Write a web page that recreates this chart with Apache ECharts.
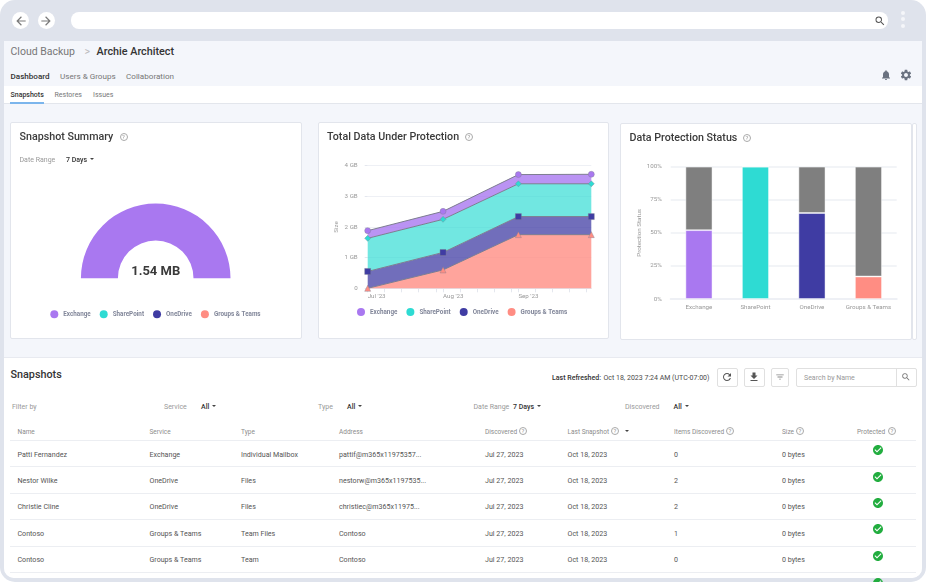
<!DOCTYPE html>
<html>
<head>
<meta charset="utf-8">
<title>Cloud Backup</title>
<script src="https://cdn.jsdelivr.net/npm/echarts@6/dist/echarts.min.js"></script>
<style>
  html, body { margin: 0; padding: 0; background: #fff; }
  #frame { position: absolute; left: 0; top: 0; width: 926px; height: 582px; background: #dfe3ec; border-radius: 15px; overflow: hidden; font-family: Roboto, sans-serif; filter: blur(0.3px); }
  #body { position: absolute; left: 4px; top: 41px; width: 918px; height: 537px; background: #f4f6fb; border-radius: 0 0 10px 10px; overflow: hidden; }
  .box { position: absolute; box-sizing: border-box; }
  .card { background: #fff; border: 1px solid #e2e5ec; border-radius: 2px; }
  .chart { position: absolute; }
  .t { position: absolute; white-space: nowrap; line-height: 1; transform: translateY(-50%); font-size: 7px; color: #4a4a4a; }
  .crumb { font-size: 10.5px; color: #777; }
  .arrow { color: #bbb; }
  .strong { font-size: 10.8px; font-weight: 500; color: #333; }
  .tab { font-size: 8.1px; color: #777; }
  .sub { font-size: 7px; color: #777; }
  .on { color: #333; font-weight: 500; }
  .title { font-size: 10.7px; font-weight: 500; color: #3b3b3b; }
  .lab { color: #999; }
  .head { color: #8c8c8c; font-size: 6.5px; }
  .sel { color: #333; font-weight: 500; }
  .cell { font-size: 7.1px; color: #555; }
  .help { position: absolute; width: 8px; height: 8px; box-sizing: border-box; border: .8px solid #a9a9a9; border-radius: 50%; color: #999; font-size: 6px; line-height: 6.6px; text-align: center; transform: translate(-50%, -50%); }
  .caret { position: absolute; width: 0; height: 0; border: 2.4px solid transparent; border-top: 2.8px solid #444; border-bottom: 0; transform: translate(-50%, -50%); }
  .ico { position: absolute; transform: translate(-50%, -50%); display: block; }
  .btn { background: #fff; border: 1px solid #e0e0e0; border-radius: 2px; }
</style>
</head>
<body>
<div id="frame">
  <div id="body"></div>
  <div class="box card" style="left:10px;top:122px;width:292px;height:217px"></div>
  <div class="box card" style="left:318px;top:122px;width:291px;height:217px"></div>
  <div class="box card" style="left:912px;top:123px;width:5px;height:217px"></div>
  <div class="box card" style="left:620px;top:123px;width:292px;height:217px"></div>
  <div class="box" style="left:4px;top:86px;width:918px;height:18px;background:#fff;border-bottom:1px solid #e3e6ec"></div>
  <div class="box" style="left:10px;top:102px;width:34px;height:1.5px;background:#7bb5ec"></div>
  <div class="box" style="left:4px;top:357px;width:918px;height:221px;background:#fff;border-top:1px solid #e8eaf0;border-radius:0 0 10px 10px"></div>
  <div class="box" style="left:71px;top:12px;width:817px;height:17px;background:#fff;border-radius:8px"></div>
  <div class="box" style="left:12px;top:12px;width:17px;height:17px;background:#fff;border-radius:50%"></div>
  <div class="box" style="left:37.5px;top:12px;width:17px;height:17px;background:#fff;border-radius:50%"></div>
  <div class="box" style="left:900.5px;top:10.5px;width:4px;height:4px;background:#f5f6fa;border-radius:50%"></div>
  <div class="box" style="left:900.5px;top:17px;width:4px;height:4px;background:#f5f6fa;border-radius:50%"></div>
  <div class="box" style="left:900.5px;top:24px;width:4px;height:4px;background:#f5f6fa;border-radius:50%"></div>
  <div class="box btn" style="left:716.5px;top:368px;width:21px;height:19px"></div>
  <div class="box btn" style="left:743.5px;top:368px;width:21px;height:19px"></div>
  <div class="box btn" style="left:771px;top:368px;width:18px;height:19px"></div>
  <div class="box btn" style="left:796px;top:368px;width:121px;height:19px"></div>
  <div class="box" style="left:895.5px;top:368px;width:1px;height:19px;background:#e0e0e0"></div>
  <div class="chart" id="summary" style="left:11px;top:123px;width:290px;height:215px"></div>
  <div class="chart" id="total" style="left:319px;top:123px;width:289px;height:215px"></div>
  <div class="chart" id="status" style="left:621px;top:124px;width:290px;height:215px"></div>
</div>
<script>
  // 数据
  const services = ['Exchange', 'SharePoint', 'OneDrive', 'Groups & Teams']
  const serviceColors = ['#a978f0', '#2edbd3', '#3f3ca3', '#ff8d83']

  const summaryValues = [1.54, 0, 0, 0]
  const summaryText = '1.54 MB'

  const months = ['2023-07-01', '2023-08-01', '2023-09-01', '2023-10-01']
  const monthLabels = ["Jul '23", "Aug '23", "Sep '23", '']
  const sizeExchange = [0.25, 0.26, 0.30, 0.31]
  const sizeSharePoint = [1.08, 1.08, 1.07, 1.07]
  const sizeOneDrive = [0.55, 0.57, 0.59, 0.59]
  const sizeGroups = [0, 0.6, 1.75, 1.75]

  const protectedPct = [52, 100, 65, 17]
  const unprotectedPct = [48, 0, 35, 83]

  const tableHeads = ['Name', 'Service', 'Type', 'Address', 'Discovered', 'Last Snapshot', 'Items Discovered', 'Size', 'Protected']
  const tableRows = [
    ['Patti Fernandez', 'Exchange', 'Individual Mailbox', 'pattif@m365x11975357...', 'Jul 27, 2023', 'Oct 18, 2023', '0', '0 bytes'],
    ['Nestor Wilke', 'OneDrive', 'Files', 'nestorw@m365x1197535...', 'Jul 27, 2023', 'Oct 18, 2023', '2', '0 bytes'],
    ['Christie Cline', 'OneDrive', 'Files', 'christiec@m365x11975...', 'Jul 27, 2023', 'Oct 18, 2023', '2', '0 bytes'],
    ['Contoso', 'Groups & Teams', 'Team Files', 'Contoso', 'Jul 27, 2023', 'Oct 18, 2023', '1', '0 bytes'],
    ['Contoso', 'Groups & Teams', 'Team', 'Contoso', 'Jul 27, 2023', 'Oct 18, 2023', '0', '0 bytes']
  ]

  // 页面外框
  const frame = document.getElementById('frame')
  const colX = [17.5, 149.5, 241, 339, 485, 567.5, 674, 782, 857]
  const headHelpX = { Discovered: 523, 'Last Snapshot': 615, 'Items Discovered': 730, Size: 800, Protected: 892 }
  const rowY = [454, 480.5, 506.5, 533, 559.5]
  const lineY = [440, 466, 493, 519, 546, 572]

  function put (text, x, y, cls) {
    const el = document.createElement('span')
    el.className = 't ' + (cls || '')
    el.style.left = x + 'px'
    el.style.top = (y + 0.6) + 'px'
    el.textContent = text
    frame.appendChild(el)
  }
  function help (x, y) {
    const el = document.createElement('span')
    el.className = 'help'
    el.style.left = x + 'px'
    el.style.top = y + 'px'
    el.textContent = '?'
    frame.appendChild(el)
  }
  function caret (x, y) {
    const el = document.createElement('i')
    el.className = 'caret'
    el.style.left = x + 'px'
    el.style.top = y + 'px'
    frame.appendChild(el)
  }
  function icon (path, x, y, size, color) {
    const wrap = document.createElement('div')
    wrap.innerHTML = '<svg class="ico" viewBox="0 0 24 24" width="' + size + '" height="' + size + '" style="left:' + x + 'px;top:' + y + 'px"><path fill="' + color + '" d="' + path + '"/></svg>'
    frame.appendChild(wrap.firstChild)
  }

  const ICON_BACK = 'M20 11H7.83l5.59-5.59L12 4l-8 8 8 8 1.41-1.41L7.83 13H20v-2z'
  const ICON_FORWARD = 'M12 4l-1.41 1.41L16.17 11H4v2h12.17l-5.58 5.59L12 20l8-8z'
  const ICON_SEARCH = 'M15.5 14h-.79l-.28-.27A6.471 6.471 0 0 0 16 9.5 6.5 6.5 0 1 0 9.5 16c1.61 0 3.09-.59 4.23-1.57l.27.28v.79l5 4.99L20.49 19l-4.99-5zm-6 0C7.01 14 5 11.99 5 9.5S7.01 5 9.5 5 14 7.01 14 9.5 11.99 14 9.5 14z'
  const ICON_BELL = 'M12 22c1.1 0 2-.9 2-2h-4c0 1.1.9 2 2 2zm6-6v-5c0-3.07-1.63-5.64-4.5-6.32V4c0-.83-.67-1.5-1.5-1.5s-1.5.67-1.5 1.5v.68C7.64 5.36 6 7.92 6 11v5l-2 2v1h16v-1l-2-2z'
  const ICON_GEAR = 'M19.14 12.94c.04-.3.06-.61.06-.94 0-.32-.02-.64-.07-.94l2.03-1.58a.49.49 0 0 0 .12-.61l-1.92-3.32a.488.488 0 0 0-.59-.22l-2.39.96c-.5-.38-1.03-.7-1.62-.94l-.36-2.54a.484.484 0 0 0-.48-.41h-3.84c-.24 0-.43.17-.47.41l-.36 2.54c-.59.24-1.13.57-1.62.94l-2.39-.96c-.22-.08-.47 0-.59.22L2.74 8.87c-.12.21-.08.47.12.61l2.03 1.58c-.05.3-.09.63-.09.94s.02.64.07.94l-2.03 1.58a.49.49 0 0 0-.12.61l1.92 3.32c.12.22.37.29.59.22l2.39-.96c.5.38 1.03.7 1.62.94l.36 2.54c.05.24.24.41.48.41h3.84c.24 0 .44-.17.47-.41l.36-2.54c.59-.24 1.13-.56 1.62-.94l2.39.96c.22.08.47 0 .59-.22l1.92-3.32c.12-.22.07-.47-.12-.61l-2.01-1.58zM12 15.6c-1.98 0-3.6-1.62-3.6-3.6s1.62-3.6 3.6-3.6 3.6 1.62 3.6 3.6-1.62 3.6-3.6 3.6z'
  const ICON_REFRESH = 'M17.65 6.35A7.958 7.958 0 0 0 12 4c-4.42 0-7.99 3.58-7.99 8s3.57 8 7.99 8c3.73 0 6.84-2.55 7.73-6h-2.08A5.99 5.99 0 0 1 12 18c-3.31 0-6-2.69-6-6s2.69-6 6-6c1.66 0 3.14.69 4.22 1.78L13 11h7V4l-2.35 2.35z'
  const ICON_DOWNLOAD = 'M19 9h-4V3H9v6H5l7 7 7-7zM5 18v2h14v-2H5z'
  const ICON_FILTER = 'M10 18h4v-2h-4v2zM3 6v2h18V6H3zm3 7h12v-2H6v2z'
  const ICON_CHECK = 'M12 2C6.48 2 2 6.48 2 12s4.48 10 10 10 10-4.48 10-10S17.52 2 12 2zm-2 15l-5-5 1.41-1.41L10 14.17l7.59-7.59L19 8l-9 9z'

  icon(ICON_BACK, 20.5, 20.5, 14, '#7a7a7a')
  icon(ICON_FORWARD, 46, 20.5, 14, '#7a7a7a')
  icon(ICON_SEARCH, 879.5, 20.5, 12, '#555')
  icon(ICON_BELL, 885.5, 75, 12, '#6a7280')
  icon(ICON_GEAR, 906, 75, 13, '#6a7280')
  icon(ICON_REFRESH, 726.5, 377, 12, '#555')
  icon(ICON_DOWNLOAD, 754, 377, 12, '#555')
  icon(ICON_FILTER, 780, 377, 10, '#888')
  icon(ICON_SEARCH, 905.5, 377, 10, '#777')

  put('Cloud Backup', 10.5, 51, 'crumb')
  put('>', 84.5, 51, 'crumb arrow')
  put('Archie Architect', 96.5, 51, 'strong')
  put('Dashboard', 10.5, 75, 'tab on')
  put('Users & Groups', 60, 75, 'tab')
  put('Collaboration', 126, 75, 'tab')
  put('Snapshots', 10.5, 94.5, 'sub on')
  put('Restores', 54.5, 94.5, 'sub')
  put('Issues', 93, 94.5, 'sub')

  put('Snapshot Summary', 19.5, 136.5, 'title')
  help(123.5, 137)
  put('Date Range', 19.5, 159, 'lab')
  put('7 Days', 66, 159, 'sel')
  caret(92, 158.7)
  put('Total Data Under Protection', 327, 136, 'title')
  help(469, 136.5)
  put('Data Protection Status', 629.5, 137, 'title')
  help(747, 137.5)

  put('Snapshots', 10.5, 374, 'strong')
  put('Last Refreshed:', 552, 377, 'sel')
  put('Oct 18, 2023 7:24 AM (UTC-07:00)', 603.5, 377, '')
  put('Search by Name', 804, 377, 'lab')

  put('Filter by', 12, 406, 'lab')
  put('Service', 164, 406, 'lab')
  put('All', 201, 406, 'sel')
  caret(213.5, 405.7)
  put('Type', 318, 406, 'lab')
  put('All', 347, 406, 'sel')
  caret(359.5, 405.7)
  put('Date Range', 473.5, 406, 'lab')
  put('7 Days', 513, 406, 'sel')
  caret(538.5, 405.7)
  put('Discovered', 625, 406, 'lab')
  put('All', 673.5, 406, 'sel')
  caret(686.7, 405.7)

  tableHeads.forEach((name, i) => {
    put(name, colX[i], 431, 'head')
    if (headHelpX[name]) help(headHelpX[name], 431)
  })
  caret(627.3, 430.7)
  lineY.forEach(y => {
    const el = document.createElement('div')
    el.className = 'box'
    el.style.cssText = 'left:10px;width:906px;height:1px;background:#eceef2;top:' + y + 'px'
    frame.appendChild(el)
  })
  tableRows.forEach((row, r) => {
    row.forEach((cell, c) => put(cell, colX[c], rowY[r], 'cell'))
    icon(ICON_CHECK, 877.7, rowY[r] - 3.7, 12, '#22ad3f')
  })
  icon(ICON_CHECK, 877.7, 582.5, 12, '#22ad3f')

  // 图表
  const axisColor = '#999'
  const gridLine = '#eef0f5'

  function legendOption (left, top) {
    return {
      left,
      top,
      width: 285,
      padding: 0,
      icon: 'circle',
      itemWidth: 8,
      itemHeight: 8,
      itemGap: 9,
      data: services,
      selectedMode: false,
      itemStyle: { borderWidth: 0 },
      textStyle: { fontFamily: 'Roboto', fontSize: 6.3, fontWeight: 'bold', color: '#82879a' }
    }
  }

  // 半环图
  const summaryChart = echarts.init(document.getElementById('summary'))
  summaryChart.setOption({
    animation: false,
    title: {
      text: summaryText,
      left: 144.7,
      top: 142,
      padding: 0,
      textAlign: 'center',
      textStyle: { fontFamily: 'Roboto', fontSize: 13, fontWeight: 'bold', color: '#3a3a3a' }
    },
    legend: legendOption(39.3, 187.3),
    series: [{
      type: 'pie',
      center: [144.7, 155.3],
      radius: [37.8, 74.8],
      startAngle: 180,
      endAngle: 360,
      label: { show: false },
      labelLine: { show: false },
      data: services.map((name, i) => ({
        name,
        value: summaryValues[i],
        itemStyle: { color: serviceColors[i] }
      }))
    }]
  })

  // 堆叠面积图
  const areaOpacity = [0.8, 0.68, 0.74, 0.8]
  const areaValues = [sizeExchange, sizeSharePoint, sizeOneDrive, sizeGroups]
  const areaSymbols = ['circle', 'diamond', 'rect', 'triangle']
  const areaSeries = services.map((name, i) => ({
    name,
    type: 'line',
    stack: 'size',
    symbol: areaSymbols[i],
    symbolSize: 6,
    clip: false,
    lineStyle: { color: '#7d7d90', width: 1 },
    itemStyle: { color: serviceColors[i], borderColor: '#7d7d90', borderWidth: 0.4 },
    areaStyle: { color: serviceColors[i], opacity: areaOpacity[i] },
    data: months.map((m, j) => [m, areaValues[i][j]])
  })).reverse()

  const totalChart = echarts.init(document.getElementById('total'))
  totalChart.setOption({
    animation: false,
    legend: legendOption(38, 185),
    grid: { left: 48.7, right: 16.7, top: 42.7, bottom: 49.7 },
    xAxis: {
      type: 'time',
      min: months[0],
      max: months[months.length - 1],
      axisLine: { lineStyle: { color: '#e4e7ee' } },
      axisTick: { length: 4, lineStyle: { color: '#e4e7ee' } },
      splitLine: { show: false },
      axisLabel: {
        color: axisColor,
        fontFamily: 'Roboto',
        fontSize: 6.2,
        margin: 5,
        align: 'left',
        hideOverlap: false,
        formatter: v => {
          const d = new Date(v)
          const i = months.findIndex(m => +echarts.time.parse(m) === +d)
          return i < 0 ? '' : monthLabels[i]
        }
      }
    },
    yAxis: {
      type: 'value',
      min: 0,
      max: 4,
      interval: 1,
      name: 'Size',
      nameLocation: 'middle',
      nameGap: 28,
      nameMoveOverlap: false,
      nameTextStyle: { color: axisColor, fontFamily: 'Roboto', fontSize: 6.2 },
      axisLine: { show: false },
      axisTick: { show: true, length: 3, lineStyle: { color: '#e4e7ee' } },
      splitLine: { lineStyle: { color: gridLine } },
      axisLabel: {
        color: axisColor,
        fontFamily: 'Roboto',
        fontSize: 6.2,
        margin: 10,
        formatter: v => (v === 0 ? '0' : v + ' GB')
      }
    },
    series: areaSeries
  })

  // 堆叠柱状图
  const statusChart = echarts.init(document.getElementById('status'))
  statusChart.setOption({
    animation: false,
    grid: { left: 49.7, width: 226, top: 42.7, height: 132.3 },
    xAxis: {
      type: 'category',
      data: services,
      axisLine: { lineStyle: { color: gridLine, width: 2 } },
      axisTick: { show: false },
      axisLabel: { color: axisColor, fontFamily: 'Roboto', fontSize: 6.2, margin: 5, interval: 0 }
    },
    yAxis: {
      type: 'value',
      min: 0,
      max: 100,
      interval: 25,
      name: 'Protection Status',
      nameLocation: 'middle',
      nameGap: 28,
      nameMoveOverlap: false,
      nameTextStyle: { color: axisColor, fontFamily: 'Roboto', fontSize: 6.2 },
      axisLine: { show: false },
      axisTick: { show: false },
      splitLine: { lineStyle: { color: gridLine, width: 1.5 } },
      axisLabel: { color: axisColor, fontFamily: 'Roboto', fontSize: 6.2, margin: 9, formatter: '{value}%' }
    },
    series: [
      {
        name: 'Protected',
        type: 'bar',
        stack: 'status',
        barWidth: 27,
        itemStyle: { borderColor: 'rgba(255,255,255,0.6)', borderWidth: 0.8 },
        data: protectedPct.map((value, i) => ({ value, itemStyle: { color: serviceColors[i] } }))
      },
      {
        name: 'Unprotected',
        type: 'bar',
        stack: 'status',
        barWidth: 27,
        itemStyle: { color: '#7f7f7f', borderColor: 'rgba(255,255,255,0.6)', borderWidth: 0.8 },
        data: unprotectedPct
      }
    ]
  })
</script>
</body>
</html>
